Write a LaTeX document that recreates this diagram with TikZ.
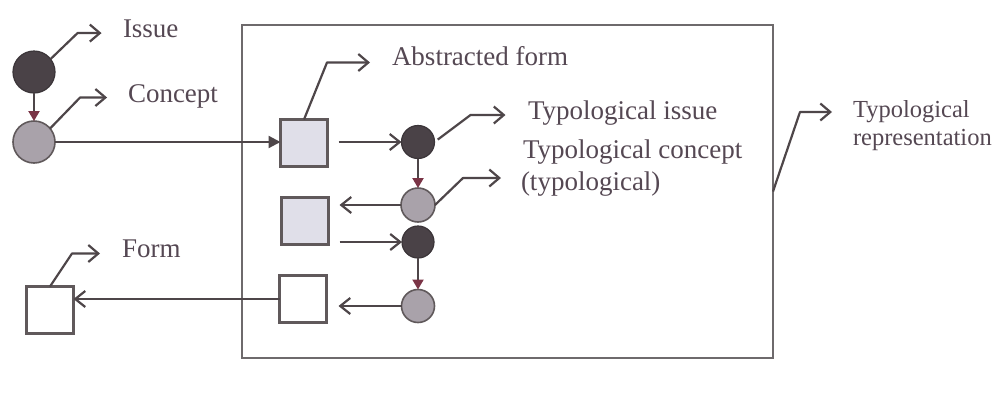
\documentclass[tikz,border=0pt]{standalone}
\usepackage{fontspec}
\setmainfont{Liberation Serif}
\usetikzlibrary{arrows.meta}
\definecolor{darkfill}{HTML}{4A4247}
\definecolor{lightfill}{HTML}{A9A2AA}
\definecolor{sqfill}{HTML}{E0DFE9}
\definecolor{linecol}{HTML}{4E4649}
\definecolor{headred}{HTML}{7A3446}
\definecolor{framecol}{HTML}{6E6A6C}
\definecolor{txt}{HTML}{554853}
\begin{document}
\begin{tikzpicture}[x=1pt,y=-1pt,
  every node/.style={inner sep=0pt, outer sep=0pt},
  darkdot/.style={circle, fill=darkfill, draw=darkfill!80!black, line width=1.2pt, minimum size=#1},
  lightdot/.style={circle, fill=lightfill, draw=linecol!90, line width=1.6pt, minimum size=#1},
  shadedbox/.style={rectangle, fill=sqfill, draw=linecol!90, line width=2.4pt, minimum size=47pt},
  plainbox/.style={rectangle, fill=white, draw=linecol!90, line width=2.4pt, minimum size=47pt},
  lbl/.style={anchor=base west, text=txt, font=\fontsize{27}{32}\selectfont},
  smalllbl/.style={lbl, font=\fontsize{24.5}{29}\selectfont},
  vtip/.style={draw=linecol, line width=2.2pt, -{Triangle[length=10pt,width=11pt,color=headred]}},
  ftip/.style={draw=linecol, line width=2.2pt, -{Triangle[length=12pt,width=12pt]}},
  otip/.style={draw=linecol, line width=2.2pt, -{Straight Barb[length=10pt,width=16pt,line width=2.2pt]}},
  lab/.style={draw=linecol, line width=2.2pt, line join=round, -{Straight Barb[length=10pt,width=17pt,line width=2.2pt]}}
]
\useasboundingbox (0,0) rectangle (1005,397);
\fill[white] (0,0) rectangle (1005,397);

% enclosing frame of the typological part
\node[draw=framecol, line width=1.4pt, minimum width=531pt, minimum height=333pt] (frame) at (507.5,191.5) {};

% left column: issue, concept, form
\node[darkdot=42pt]  (issue)   at (34,72)  {};
\node[lightdot=42pt] (concept) at (34,142) {};
\node[plainbox]      (form)    at (50,310) {};

% inside the frame
\node[shadedbox]     (absq)  at (304,143) {};
\node[darkdot=33pt]  (tiss)  at (418,142) {};
\node[lightdot=34pt] (tcon)  at (418,205) {};
\node[shadedbox]     (sq2)   at (305,221) {};
\node[darkdot=32pt]  (diss2) at (418,242) {};
\node[lightdot=33pt] (lcon2) at (418,306) {};
\node[plainbox]      (sq3)   at (303,299) {};

% labels
\node[lbl] (issuelbl)   at (123,37)  {Issue};
\node[lbl] (conceptlbl) at (128,102) {Concept};
\node[lbl] (abslbl)     at (392,65)  {Abstracted form};
\node[lbl] (tisslbl)    at (528,119) {Typological issue};
\node[lbl] (tconlblA)   at (523,158) {Typological concept};
\node[lbl] (tconlblB)   at (521,190) {(typological)};
\node[lbl] (formlbl)    at (122,257) {Form};
\node[smalllbl] (replblA) at (853,117) {Typological};
\node[smalllbl] (replblB) at (853,145) {representation};

% flow connectors
\draw[vtip] (issue) -- (concept);
\draw[ftip] (concept.east) -- (concept.east -| absq.west);
\draw[otip, shorten <=11pt] (absq.east |- tiss) -- (tiss.west);
\draw[vtip] (tiss) -- (tcon);
\draw[otip, shorten >=11pt] (tcon.west) -- (sq2.east |- tcon.west);
\draw[otip, shorten <=11pt] (sq2.east |- diss2.west) -- (diss2.west);
\draw[vtip] (diss2) -- (lcon2);
\draw[otip, shorten >=12pt] (lcon2.west) -- (sq3.east |- lcon2.west);
\draw[otip] (sq3.west) -- (sq3.west -| form.east);

% label pointers
\draw[lab] (issue.38) -- ++(27,-26) -- ++(24,0);
\draw[lab] (concept.40) -- ++(30,-31) -- ++(27,0);
\draw[lab] (absq.north) -- ++(23,-57) -- ++(43,0);
\draw[lab, shorten <=4pt] (tiss.east) -- ++(36,-27) -- ++(35,0);
\draw[lab] (tcon.east) -- ++(28,-27) -- ++(38,0);
\draw[lab] (form.north) -- ++(22,-33) -- ++(28,0);
\draw[lab] (frame.east) -- ++(27,-79.5) -- ++(32,0);
\end{tikzpicture}
\end{document}
